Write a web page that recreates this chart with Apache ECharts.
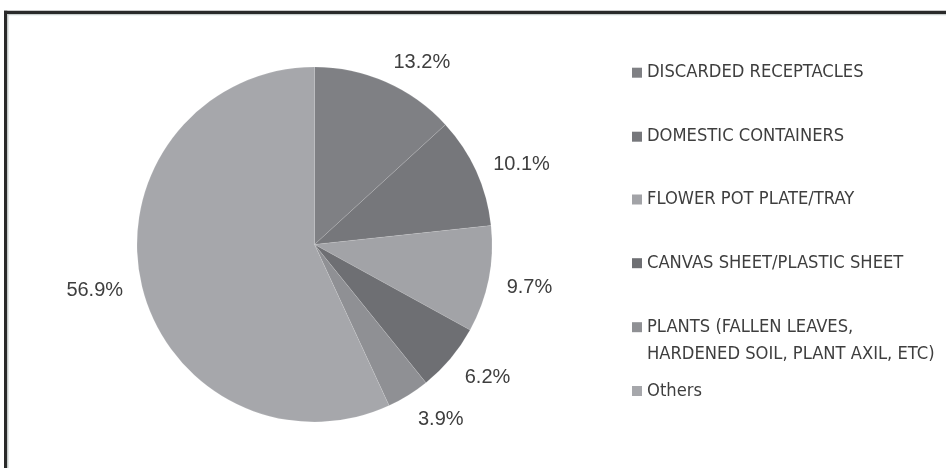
<!DOCTYPE html>
<html>
<head>
<meta charset="utf-8">
<script src="https://cdn.jsdelivr.net/npm/echarts@6/dist/echarts.min.js"></script>
<style>
  html, body { margin: 0; padding: 0; background: #ffffff; }
  #chart { width: 946px; height: 468px; }
</style>
</head>
<body>
<div id="chart"></div>
<script>
// Breeding-site categories and their share of all sites (%)
const categories = [
  'DISCARDED RECEPTACLES',
  'DOMESTIC CONTAINERS',
  'FLOWER POT PLATE/TRAY',
  'CANVAS SHEET/PLASTIC SHEET',
  'PLANTS (FALLEN LEAVES, HARDENED SOIL, PLANT AXIL, ETC)',
  'Others'
];
const shares = [13.2, 10.1, 9.7, 6.2, 3.9, 56.9];
const sliceColors = ['#7f8084', '#76777b', '#a2a3a7', '#6e6f73', '#8f9094', '#a6a7ab'];

// Legend wording (the long entry wraps onto two lines)
const legendLines = {
  'PLANTS (FALLEN LEAVES, HARDENED SOIL, PLANT AXIL, ETC)':
    ['PLANTS (FALLEN LEAVES,', 'HARDENED SOIL, PLANT AXIL, ETC)']
};

// Layout
const CX = 314.5, CY = 244.5, R = 177.5;
const TEXT_COLOR = '#3e3e3e';
const FONT = '"Liberation Sans", Arial, sans-serif';
const LEGEND_FONT = '"DejaVu Sans Condensed", "Liberation Sans Narrow", sans-serif';
const LEGEND_LEFT = 632;
const LINE_H = 27;
// vertical centre of the first text line of each legend row
const legendRowY = [72.7, 136.7, 199.5, 263.2, 327.2, 391];

// Legend text centres on its marker, so a wrapped entry gets as many blank
// lines above it as it has extra lines below: the marker then meets line one.
function legendText(name) {
  const lines = legendLines[name] || [name];
  const pad = new Array(lines.length - 1).fill('');
  return pad.concat(lines).join('\n');
}

const chart = echarts.init(document.getElementById('chart'), null, { renderer: 'canvas' });

// one legend block per row so every row keeps its own position
const legends = categories.map((name, i) => {
  const nLines = legendText(name).split('\n').length;
  return {
    orient: 'vertical',
    left: LEGEND_LEFT,
    top: legendRowY[i] - nLines * LINE_H / 2,
    padding: 0,
    itemWidth: 10,
    itemHeight: 10,
    icon: 'rect',
    selectedMode: false,
    itemStyle: { borderWidth: 0 },
    formatter: legendText,
    textStyle: {
      color: TEXT_COLOR,
      fontFamily: LEGEND_FONT,
      fontSize: 18.2,
      lineHeight: LINE_H
    },
    data: [name]
  };
});

chart.setOption({
  animation: false,
  backgroundColor: '#ffffff',
  graphic: [
    // frame: dark rule with a pale inner edge along the top and left
    { type: 'rect', silent: true, shape: { x: 4, y: 10.7, width: 942, height: 3.3 }, style: { fill: '#2a2a2a' } },
    { type: 'rect', silent: true, shape: { x: 4, y: 10.7, width: 3.3, height: 458 }, style: { fill: '#2a2a2a' } },
    { type: 'rect', silent: true, shape: { x: 7.3, y: 14, width: 939, height: 1.2 }, style: { fill: '#c8cfce' } },
    { type: 'rect', silent: true, shape: { x: 7.3, y: 14, width: 1.2, height: 454 }, style: { fill: '#c8cfce' } }
  ],
  legend: legends,
  series: [{
    type: 'pie',
    center: [CX, CY],
    radius: R,
    startAngle: 90,
    clockwise: true,
    avoidLabelOverlap: false,
    silent: true,
    emphasis: { disabled: true },
    itemStyle: { borderColor: 'rgba(255,255,255,0.18)', borderWidth: 0.6 },
    data: categories.map((name, i) => ({
      name,
      value: shares[i],
      itemStyle: { color: sliceColors[i] }
    })),
    label: {
      show: true,
      position: 'outside',
      distanceToLabelLine: 0,
      formatter: p => p.value.toFixed(1) + '%',
      color: TEXT_COLOR,
      fontFamily: FONT,
      fontSize: 20
    },
    labelLine: { show: false, length: 18.5, length2: 0 },
    // lift labels in the upper half and drop those in the lower half,
    // so each label sits just off its corner of the slice
    labelLayout: p => {
      const r = p.labelRect;
      const onRight = r.x + r.width / 2 > CX;
      const ax = onRight ? r.x : r.x + r.width;
      const ay = r.y + r.height / 2;
      const d = Math.hypot(ax - CX, ay - CY) || 1;
      const cosT = (CY - ay) / d;
      return { dy: 3 - 6 * cosT };
    }
  }]
});
</script>
</body>
</html>
